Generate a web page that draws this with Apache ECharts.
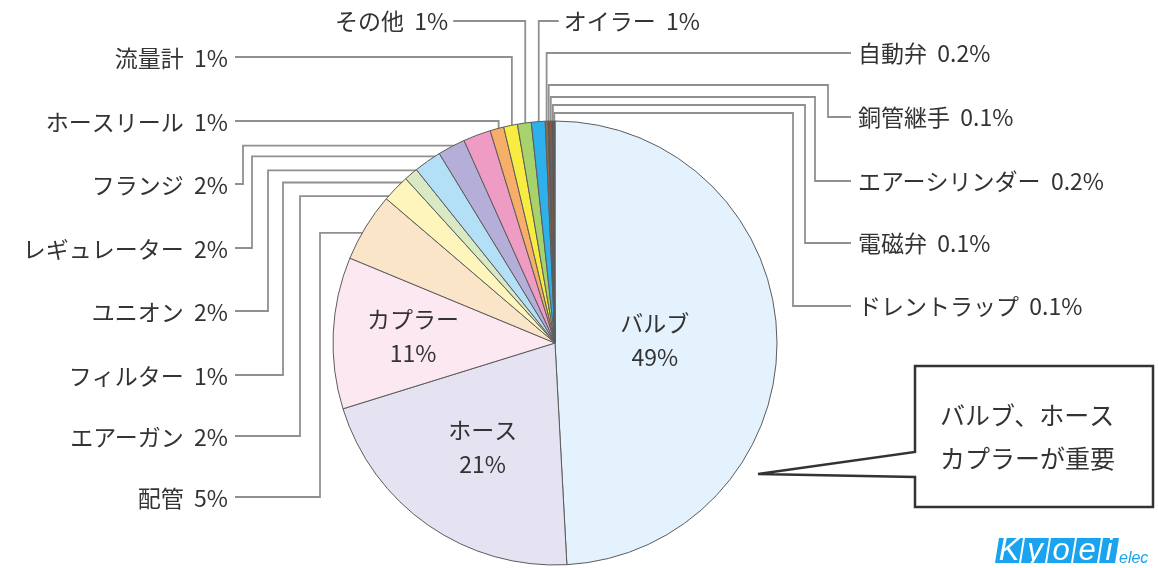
<!DOCTYPE html>
<html><head><meta charset="utf-8">
<script src="https://cdn.jsdelivr.net/npm/echarts@6/dist/echarts.min.js"></script>
<style>html,body{margin:0;padding:0;background:#fff}#c{width:1158px;height:568px}</style>
</head><body><div id="c"></div>
<script>
// ---- data ----
const categories = ['バルブ','ホース','カプラー','配管','エアーガン','フィルター','ユニオン','レギュレーター','フランジ','ホースリール','流量計','その他','オイラー','自動弁','銅管継手','エアーシリンダー','電磁弁','ドレントラップ'];
const shares = [49,21,11,5,2,1,2,2,2,1,1,1,1,0.2,0.1,0.2,0.1,0.1];
const calloutLines = ['バルブ、ホース','カプラーが重要'];
const logoLetters = ['K','y','o','e','i'];
const logoTail = 'elec';

// ---- styles ----
const sliceColors = ['#e3f2fc','#e5e3f2','#fce8f0','#fbe5c9','#fdf5bb','#d9e9c4','#b3e0f6','#b4aed8','#ef9cc5','#f6ae69','#f8eb42','#a8d36c','#2eb0ea','#9a6b45','#6e4a2e','#8a5a3a','#454545','#5e5e5e'];
const CX = 555, CY = 343, R = 222;
const FONT = '"Noto Sans CJK JP","Noto Sans",sans-serif';
const TEXT = '#333333';

// label routing (layout only)
const routes = [
  {inner: 0.45}, {inner: 0.57}, {inner: 0.64},
  {side: 'left', col: 320, ly: 497},
  {side: 'left', col: 300, ly: 436},
  {side: 'left', col: 283, ly: 375},
  {side: 'left', col: 268, ly: 311},
  {side: 'left', col: 252, ly: 248},
  {side: 'left', col: 243, ly: 184},
  {side: 'topLeft', ly: 121},
  {side: 'topLeft', ly: 57},
  {side: 'up', ly: 21, dir: -1},
  {side: 'up', ly: 21, dir: 1},
  {side: 'right', ly: 53},
  {side: 'right', hy: 85, col: 828, ly: 117},
  {side: 'right', hy: 97, col: 815, ly: 181},
  {side: 'right', hy: 105, col: 805, ly: 243},
  {side: 'right', hy: 113, col: 793, ly: 306}
];

const total = shares.reduce((a, b) => a + b, 0);
const midAngles = [];
(function () {
  let acc = 0;
  for (const v of shares) { midAngles.push(2 * Math.PI * (acc + v / 2) / total); acc += v; }
})();
function pt(i, rho) {
  const t = midAngles[i];
  return [CX + rho * Math.sin(t), CY - rho * Math.cos(t)];
}

const data = categories.map((name, i) => {
  const item = {name, value: shares[i], itemStyle: {color: sliceColors[i]}};
  if (routes[i].inner) {
    item.label = {position: 'inner', formatter: '{b}\n{c}%', fontSize: 23, lineHeight: 34};
    item.labelLine = {show: false};
  }
  return item;
});

const graphics = [
  {type: 'polygon', z: 100,
    shape: {points: [[915, 366], [1153, 366], [1153, 507], [915, 507], [915, 477], [758, 474], [915, 452]]},
    style: {fill: '#fff', stroke: '#333', lineWidth: 2.5, lineJoin: 'miter'}},
  {type: 'text', z: 101, left: 940, top: 394,
    style: {text: calloutLines.join('\n'), font: '25px ' + FONT, fill: '#333', lineHeight: 43}}
];
const logoX = [995, 1021, 1047, 1073, 1099], logoW = [24, 24, 24, 24, 16];
logoLetters.forEach((ch, k) => {
  const x = logoX[k], w = logoW[k];
  graphics.push({type: 'polygon', z: 100,
    shape: {points: [[x + 4, 538], [x + w + 4, 538], [x + w, 563], [x, 563]]},
    style: {fill: '#1aa3ef'}});
  graphics.push({type: 'text', z: 101, x: x + 2 + w / 2, y: 551,
    style: {text: ch, fill: '#fff', fontFamily: 'Liberation Sans, Arial, sans-serif', fontSize: 31,
      fontStyle: 'italic', align: 'center', verticalAlign: 'middle'}});
});
graphics.push({type: 'text', z: 101, left: 1119, top: 551,
  style: {text: logoTail, fill: '#1aa3ef', fontFamily: 'Liberation Sans, Arial, sans-serif', fontSize: 16, fontStyle: 'italic'}});

const chart = echarts.init(document.getElementById('c'), null, {renderer: 'canvas'});
chart.setOption({
  animation: false,
  backgroundColor: '#ffffff',
  series: [{
    type: 'pie',
    center: [CX, CY],
    radius: R,
    startAngle: 90,
    clockwise: true,
    avoidLabelOverlap: false,
    silent: true,
    itemStyle: {borderColor: '#5c5c5c', borderWidth: 1},
    label: {show: true, position: 'outside', formatter: '{b}  {c}%', fontFamily: FONT, fontSize: 23, color: TEXT},
    labelLine: {show: true, length: 10, length2: 10, lineStyle: {color: '#909090', width: 1.8}},
    data: data,
    labelLayout: function (p) {
      const i = p.dataIndex, r = routes[i];
      if (r.inner) {
        const q = pt(i, R * r.inner);
        return {x: q[0], y: q[1], align: 'center', verticalAlign: 'middle'};
      }
      if (r.side === 'left') {
        const a = pt(i, R * 0.95);
        return {x: 228, y: r.ly + 1, align: 'right', verticalAlign: 'middle',
          labelLinePoints: [a, [r.col, a[1]], [r.col, r.ly], [235, r.ly]]};
      }
      if (r.side === 'topLeft') {
        const a = pt(i, R * 0.97);
        return {x: 228, y: r.ly + 1, align: 'right', verticalAlign: 'middle',
          labelLinePoints: [a, [a[0], r.ly], [235, r.ly]]};
      }
      if (r.side === 'up') {
        const a = pt(i, R * 0.97);
        const endX = a[0] + r.dir * (r.dir < 0 ? 72 : 20);
        return {x: endX + r.dir * 5, y: r.ly, align: r.dir < 0 ? 'right' : 'left', verticalAlign: 'middle',
          labelLinePoints: [a, [a[0], r.ly], [endX, r.ly]]};
      }
      const a = pt(i, R);
      if (r.hy == null) {
        return {x: 858, y: r.ly, align: 'left', verticalAlign: 'middle',
          labelLinePoints: [a, [a[0], r.ly], [851, r.ly]]};
      }
      return {x: 858, y: r.ly, align: 'left', verticalAlign: 'middle',
        labelLinePoints: [a, [a[0], r.hy], [r.col, r.hy], [r.col, r.ly], [851, r.ly]]};
    }
  }],
  graphic: graphics
});
</script></body></html>
